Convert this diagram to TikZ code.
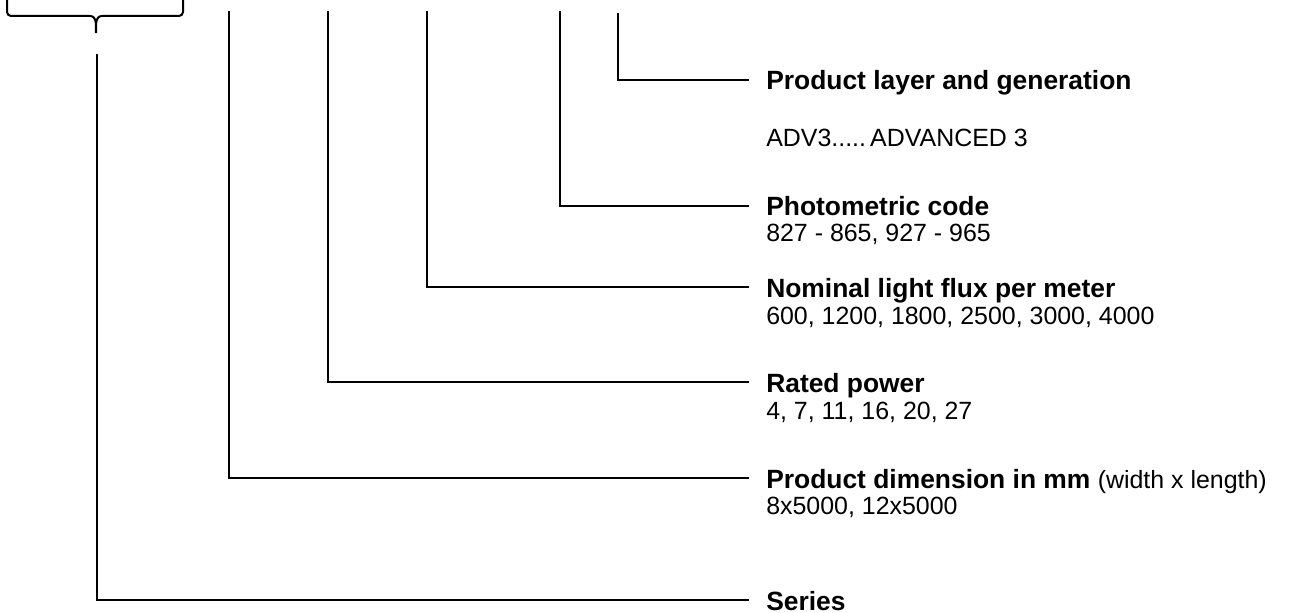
\documentclass[tikz,border=0pt]{standalone}
\usepackage{fontspec}
\setmainfont{Liberation Sans}
\begin{document}
\begin{tikzpicture}[x=0.75pt,y=-0.75pt,
  conn/.style={line width=1.5pt,line cap=rect},
  title/.style={anchor=base west,inner sep=0pt,font=\fontsize{19.8}{22}\selectfont\bfseries},
  value/.style={anchor=base west,inner sep=0pt,font=\fontsize{18.7}{21}\selectfont}]
\useasboundingbox (0,0) rectangle (1293,613);
% brace
\coordinate (bl) at (7,-2);
\coordinate (br) at (183,-2);
\coordinate (btip) at (96,33);
\draw[line width=1.5pt] (bl) -- (7,12) to[out=-90,in=180] (11,16) -- (90,16)
   to[out=0,in=90] (btip);
\draw[line width=1.5pt] (br) -- (183,12) to[out=-90,in=0] (179,16) -- (102,16)
   to[out=180,in=90] (btip);
% vertical tops
\coordinate (t1) at (618,14);
\coordinate (t2) at (560,12);
\coordinate (t3) at (427,12);
\coordinate (t4) at (328,12);
\coordinate (t5) at (229,12);
\coordinate (t6) at (97,55);
% line ends
\coordinate (e1) at (748,80);
\coordinate (e2) at (748,206);
\coordinate (e3) at (748,287);
\coordinate (e4) at (748,382);
\coordinate (e5) at (748,478);
\coordinate (e6) at (748,600);
\draw[conn] (t1) |- (e1);
\draw[conn] (t2) |- (e2);
\draw[conn] (t3) |- (e3);
\draw[conn] (t4) |- (e4);
\draw[conn] (t5) |- (e5);
\draw[conn] (t6) |- (e6);
% labels
\node[title] (l1) at (766,90) {Product layer and generation};
\node[value] (v1) at (766,147) {ADV3.....\,ADVANCED 3};
\node[title] (l2) at (766,216) {Photometric code};
\node[value] (v2) at (766,242) {827 - 865, 927 - 965};
\node[title] (l3) at (766,297) {Nominal light flux per meter};
\node[value] (v3) at (766,324) {600, 1200, 1800, 2500, 3000, 4000};
\node[title] (l4) at (766,392) {Rated power};
\node[value] (v4) at (766,419) {4, 7, 11, 16, 20, 27};
\node[title] (l5) at (766,488) {Product dimension in mm \fontsize{18.7}{21}\selectfont\mdseries(width x length)};
\node[value] (v5) at (766,514) {8x5000, 12x5000};
\node[title] (l6) at (766,610) {Series};
\end{tikzpicture}
\end{document}
